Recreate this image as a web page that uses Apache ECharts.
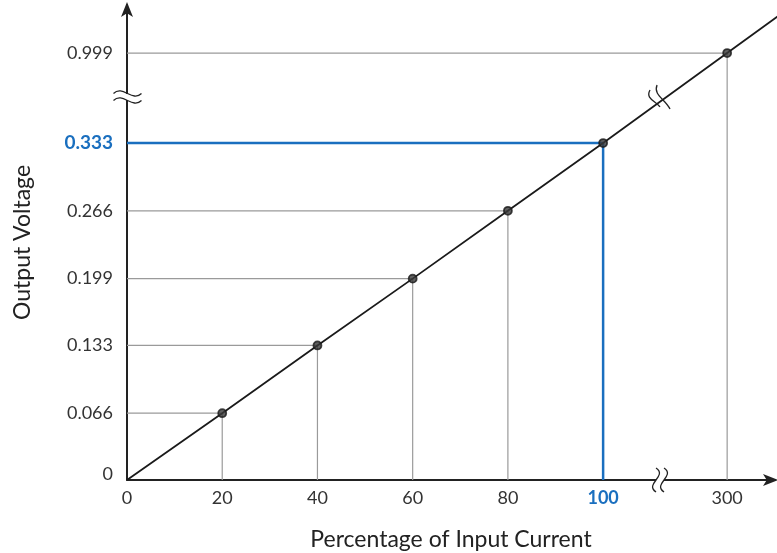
<!DOCTYPE html>
<html><head><meta charset="utf-8">
<script src="https://cdn.jsdelivr.net/npm/echarts@6/dist/echarts.min.js"></script>
<style>html,body{margin:0;padding:0;background:#fff}#c{width:777px;height:553px}</style>
</head><body><div id="c"></div>
<script>
// ---- data ----
const xValues = [0, 20, 40, 60, 80, 100, 300];
const yValues = [0, 0.066, 0.133, 0.199, 0.266, 0.333, 0.999];
const xTickLabels = ['0', '20', '40', '60', '80', '100', '300'];
const yTickLabels = ['0', '0.066', '0.133', '0.199', '0.266', '0.333', '0.999'];
const highlightX = 100;
const highlightY = 0.333;
const xTitle = 'Percentage of Input Current';
const yTitle = 'Output Voltage';

// ---- broken-axis scale (values beyond the break are compressed) ----
const xBreakAt = 100, xCompress = 0.13025;
const yBreakAt = 0.333, yCompress = 0.1335;
const tx = v => v <= xBreakAt ? v : xBreakAt + (v - xBreakAt) * xCompress;
const ty = v => v <= yBreakAt ? v : yBreakAt + (v - yBreakAt) * yCompress;
const xMax = 136.1, yMax = 0.4694;
const xBreakPos = 111.95, yBreakPos = 0.3785;

const BLUE = '#1a6fbf';
const pts = xValues.map((x, i) => [tx(x), ty(yValues[i])]);
// extend the straight line past the last point to the plot edge
const a = pts[pts.length - 2], b = pts[pts.length - 1];
const slope = (b[1] - a[1]) / (b[0] - a[0]);
const lineData = pts.concat([[xMax + 5, b[1] + slope * (xMax + 5 - b[0])]]);

const guideSeries = [];
for (let i = 1; i < xValues.length; i++) {
  const hl = xValues[i] === highlightX;
  guideSeries.push({
    type: 'line', symbol: 'none', silent: true, z: hl ? 3 : 2,
    data: [[0, pts[i][1]], [pts[i][0], pts[i][1]], [pts[i][0], 0]],
    lineStyle: { color: hl ? BLUE : '#9a9a9a', width: hl ? 2.5 : 1.2 }
  });
}

function labelFor(list, labels, tf) {
  return function (val) {
    let best = 0, d = Infinity;
    list.forEach((v, i) => { const dd = Math.abs(tf(v) - val); if (dd < d) { d = dd; best = i; } });
    const t = labels[best];
    if (list[best] === highlightX && list === xValues) return '{h|' + t + '}';
    if (list[best] === highlightY && list === yValues) return '{h|' + t + '}';
    if (list === yValues && list[best] === 0) return '{z|' + t + '}';
    return t;
  };
}

function wave(cx, cy, len, amp, vertical) {
  const h = len / 2;
  if (vertical) {
    return { x1: cx, y1: cy - h, cpx1: cx + amp, cpy1: cy - h / 3, cpx2: cx - amp, cpy2: cy + h / 3, x2: cx, y2: cy + h };
  }
  return { x1: cx - h, y1: cy, cpx1: cx - h / 3, cpy1: cy - amp, cpx2: cx + h / 3, cpy2: cy + amp, x2: cx + h, y2: cy };
}

const breakSeries = {
  type: 'custom', silent: true, z: 10,
  data: [[0]],
  renderItem: function (params, api) {
    const s = { stroke: '#222', lineWidth: 1.3, fill: 'none' };
    const yAxisPt = api.coord([0, yBreakPos]);
    const xAxisPt = api.coord([xBreakPos, 0]);
    const linePt = api.coord([xBreakPos, yBreakPos]);
    const ch = [];
    ch.push({ type: 'rect', shape: { x: yAxisPt[0] - 3, y: yAxisPt[1] - 3, width: 6, height: 6 }, style: { fill: '#fff' } });
    ch.push({ type: 'bezierCurve', shape: wave(yAxisPt[0] + 0.5, yAxisPt[1] - 3.5, 28, 9, false), style: s });
    ch.push({ type: 'bezierCurve', shape: wave(yAxisPt[0] + 0.5, yAxisPt[1] + 3.5, 28, 9, false), style: s });
    ch.push({ type: 'rect', shape: { x: xAxisPt[0] - 4, y: xAxisPt[1] - 3, width: 8, height: 6 }, style: { fill: '#fff' } });
    ch.push({ type: 'bezierCurve', shape: wave(xAxisPt[0] - 4, xAxisPt[1], 24, 12, true), style: s });
    ch.push({ type: 'bezierCurve', shape: wave(xAxisPt[0] + 4, xAxisPt[1], 24, 12, true), style: s });
    ch.push({ type: 'bezierCurve', shape: { x1: linePt[0] - 10, y1: linePt[1] - 7, cpx1: linePt[0] - 15, cpy1: linePt[1] + 2, cpx2: linePt[0] - 4, cpy2: linePt[1] + 4, x2: linePt[0], y2: linePt[1] + 10 }, style: s });
    ch.push({ type: 'bezierCurve', shape: { x1: linePt[0] - 3, y1: linePt[1] - 12, cpx1: linePt[0] - 7, cpy1: linePt[1] - 2, cpx2: linePt[0] + 5, cpy2: linePt[1] + 2, x2: linePt[0] + 10, y2: linePt[1] + 12 }, style: s });
    return { type: 'group', children: ch };
  }
};

const chart = echarts.init(document.getElementById('c'));
chart.setOption({
  animation: false,
  backgroundColor: '#fff',
  textStyle: { fontFamily: 'Lato' },
  grid: { left: 127, right: 2, top: 5, bottom: 73, containLabel: false, outerBoundsMode: 'none' },
  xAxis: {
    type: 'value', min: 0, max: xMax,
    name: xTitle, nameLocation: 'middle', nameGap: 48,
    nameTextStyle: { fontSize: 23, color: '#222', fontFamily: 'Lato' },
    axisLine: { lineStyle: { color: '#222', width: 2 }, symbol: ['none', 'arrow'], symbolSize: [9, 15], symbolOffset: [0, 3] },
    axisTick: { show: false },
    splitLine: { show: false },
    axisLabel: {
      customValues: xValues.map(tx), formatter: labelFor(xValues, xTickLabels, tx),
      fontSize: 18, color: '#333', margin: 9, fontFamily: 'Lato',
      rich: { h: { fontSize: 18, fontWeight: 'bold', color: BLUE, fontFamily: 'Lato' } }
    }
  },
  yAxis: {
    type: 'value', min: 0, max: yMax,
    name: yTitle, nameLocation: 'middle', nameGap: 93, nameRotate: 90,
    nameTextStyle: { fontSize: 23, color: '#222', fontFamily: 'Lato' },
    axisLine: { lineStyle: { color: '#222', width: 2 }, symbol: ['none', 'arrow'], symbolSize: [9, 15], symbolOffset: [0, 3] },
    axisTick: { show: false },
    splitLine: { show: false },
    axisLabel: {
      customValues: yValues.map(ty), formatter: labelFor(yValues, yTickLabels, ty),
      fontSize: 18, color: '#333', margin: 14, fontFamily: 'Lato',
      rich: {
        h: { fontSize: 19, fontWeight: 'bold', color: BLUE, fontFamily: 'Lato' },
        z: { fontSize: 18, color: '#333', padding: [0, 0, 12, 0], fontFamily: 'Lato' }
      }
    }
  },
  series: guideSeries.concat([
    {
      type: 'line', symbol: 'none', silent: true, z: 5, clip: true,
      data: lineData, lineStyle: { color: '#1a1a1a', width: 1.8 }
    },
    {
      type: 'scatter', silent: true, z: 6,
      data: pts.slice(1), symbol: 'circle', symbolSize: 8,
      itemStyle: { color: '#3a3a3a', borderColor: '#1a1a1a', borderWidth: 1.8 }
    },
    breakSeries
  ])
});
</script></body></html>
